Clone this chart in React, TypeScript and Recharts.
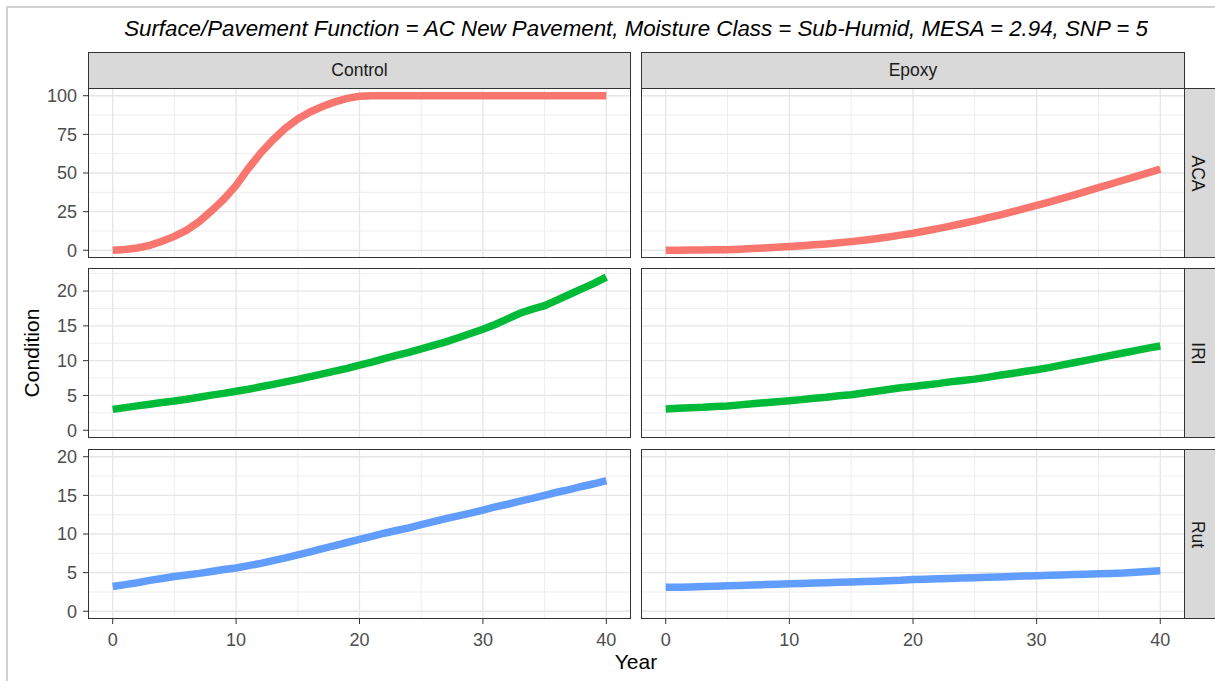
import React from 'react';
import { LineChart, Line, XAxis, YAxis, CartesianGrid } from 'recharts';

const years = [
  0, 1, 2, 3, 4, 5, 6, 7, 8, 9, 10, 11, 12, 13, 14, 15, 16, 17, 18, 19, 20,
  21, 22, 23, 24, 25, 26, 27, 28, 29, 30, 31, 32, 33, 34, 35, 36, 37, 38, 39, 40,
];
const treatments = ['Control', 'Epoxy'];
const measures = ['ACA', 'IRI', 'Rut'];

const controlACA = [
  0, 0.5, 1.5, 3.2, 5.8, 9, 13, 18.5, 25.5, 33, 42, 53, 63, 71.5, 79, 85, 89.5, 93, 96, 98.3, 99.6,
  100, 100, 100, 100, 100, 100, 100, 100, 100, 100, 100, 100, 100, 100, 100, 100, 100, 100, 100, 100,
];
const epoxyACA = [
  0, 0, 0.1, 0.2, 0.3, 0.4, 0.7, 1.1, 1.5, 1.9, 2.4, 2.9, 3.5, 4.1, 4.8, 5.6, 6.5, 7.5, 8.6, 9.8, 11,
  12.5, 14, 15.6, 17.3, 19, 20.9, 22.8, 24.8, 26.9, 29, 31.2, 33.4, 35.7, 38.1, 40.5, 42.9, 45.3, 47.7, 50.1, 52.5,
];
const controlIRI = [
  3.0, 3.25, 3.5, 3.75, 4.0, 4.2, 4.45, 4.75, 5.05, 5.3, 5.6, 5.9, 6.25, 6.6, 6.95, 7.3, 7.7, 8.1, 8.5, 8.9, 9.35,
  9.8, 10.3, 10.75, 11.2, 11.7, 12.2, 12.7, 13.3, 13.9, 14.5, 15.2, 16.0, 16.8, 17.4, 17.9, 18.7, 19.5, 20.3, 21.1, 22.0,
];
const epoxyIRI = [
  3.05, 3.15, 3.25, 3.3, 3.4, 3.5, 3.65, 3.8, 3.95, 4.1, 4.25, 4.4, 4.6, 4.75, 4.95, 5.1, 5.35, 5.6, 5.85, 6.1, 6.3,
  6.5, 6.7, 6.95, 7.15, 7.35, 7.6, 7.9, 8.15, 8.45, 8.7, 9.0, 9.35, 9.7, 10.05, 10.4, 10.75, 11.1, 11.45, 11.8, 12.1,
];
const controlRut = [
  3.2, 3.45, 3.7, 4.0, 4.25, 4.5, 4.7, 4.9, 5.15, 5.4, 5.6, 5.9, 6.2, 6.55, 6.9, 7.3, 7.7, 8.1, 8.5, 8.9, 9.3,
  9.7, 10.1, 10.45, 10.8, 11.2, 11.6, 12.0, 12.35, 12.7, 13.1, 13.5, 13.85, 14.25, 14.6, 15.0, 15.4, 15.75, 16.15, 16.5, 16.9,
];
const epoxyRut = [
  3.1, 3.1, 3.15, 3.2, 3.25, 3.3, 3.35, 3.4, 3.45, 3.5, 3.55, 3.6, 3.65, 3.7, 3.75, 3.8, 3.85, 3.9, 3.95, 4.0, 4.1,
  4.15, 4.2, 4.25, 4.3, 4.35, 4.4, 4.45, 4.5, 4.55, 4.6, 4.65, 4.7, 4.75, 4.8, 4.85, 4.9, 4.95, 5.05, 5.15, 5.25,
];

const xTicks = [0, 10, 20, 30, 40];
const xMinor = [5, 15, 25, 35];
const acaTicks = [0, 25, 50, 75, 100];
const acaMinor = [12.5, 37.5, 62.5, 87.5];
const iriTicks = [0, 5, 10, 15, 20];
const iriMinor = [2.5, 7.5, 12.5, 17.5, 22.5];
const rutTicks = [0, 5, 10, 15, 20];
const rutMinor = [2.5, 7.5, 12.5, 17.5];

const title =
  'Surface/Pavement Function = AC New Pavement, Moisture Class = Sub-Humid, MESA = 2.94, SNP = 5';

// layout (ggplot facet_grid look)
const FONT = '"Liberation Sans", Arial, Helvetica, sans-serif';
const colLeft = [88, 641];
const colW = [543, 544];
const rowTop = [88, 268, 449];
const rowH = 170;
const stripTop = 52;
const stripH = 36;
const PAD = 12; // room so edge tick labels are not clipped by the svg

const rows = [
  { series: [controlACA, epoxyACA], color: '#F8766D', domain: [-5, 105], ticks: acaTicks, minor: acaMinor },
  { series: [controlIRI, epoxyIRI], color: '#00BA38', domain: [-1.11, 23.31], ticks: iriTicks, minor: iriMinor },
  { series: [controlRut, epoxyRut], color: '#619CFF', domain: [-1, 21], ticks: rutTicks, minor: rutMinor },
];

const tickStyle = { fill: '#4d4d4d', fontSize: 18, fontFamily: FONT };

function Panel({ row, col }: { row: number; col: number }) {
  const r = rows[row];
  const values = r.series[col];
  const data = years.map((year, i) => ({ year, value: values[i] }));
  const showY = col === 0;
  const showX = row === 2;
  const yW = showY ? 88 : 0;
  const xH = showX ? 40 : 0;

  return (
    <div style={{ position: 'absolute', left: colLeft[col] - yW, top: rowTop[row] - PAD }}>
      <LineChart
        width={colW[col] + yW}
        height={rowH + xH + PAD * 2}
        data={data}
        margin={{ top: PAD, right: 0, bottom: PAD, left: 0 }}
      >
        <CartesianGrid horizontalValues={r.minor} verticalValues={xMinor} stroke="#eeeeee" strokeWidth={1} />
        <CartesianGrid horizontalValues={r.ticks} verticalValues={xTicks} stroke="#e6e6e6" strokeWidth={1.3} />
        <XAxis
          type="number"
          dataKey="year"
          domain={[-2, 42]}
          ticks={xTicks}
          interval={0}
          allowDataOverflow
          hide={!showX}
          height={xH}
          axisLine={false}
          tickLine={{ stroke: '#333333' }}
          tickSize={5}
          tickMargin={9}
          tick={tickStyle}
        />
        <YAxis
          type="number"
          domain={r.domain}
          ticks={r.ticks}
          interval={0}
          allowDataOverflow
          hide={!showY}
          width={yW}
          axisLine={false}
          tickLine={{ stroke: '#333333' }}
          tickSize={5}
          tickMargin={6}
          tick={tickStyle}
        />
        <Line
          type="linear"
          dataKey="value"
          stroke={r.color}
          strokeWidth={7.5}
          dot={false}
          isAnimationActive={false}
        />
      </LineChart>
    </div>
  );
}

export default function App() {
  const border = '1px solid #333333';
  return (
    <div
      style={{
        position: 'absolute',
        left: 0,
        top: 0,
        width: 1215,
        height: 681,
        overflow: 'hidden',
        background: '#ffffff',
        fontFamily: FONT,
      }}
    >
      {/* screenshot frame */}
      <div
        style={{
          position: 'absolute',
          left: 6,
          top: 6,
          width: 1240,
          height: 700,
          border: '2px solid #d2d2d2',
        }}
      />

      <div
        style={{
          position: 'absolute',
          left: 0,
          top: 16,
          width: 1272,
          textAlign: 'center',
          fontSize: 22.3,
          fontStyle: 'italic',
          color: '#000',
          whiteSpace: 'nowrap',
        }}
      >
        {title}
      </div>

      {rows.map((_, ri) =>
        treatments.map((_t, ci) => <Panel key={`${ri}-${ci}`} row={ri} col={ci} />)
      )}

      {/* panel borders */}
      {rows.map((_, ri) =>
        treatments.map((_t, ci) => (
          <div
            key={`b-${ri}-${ci}`}
            style={{
              position: 'absolute',
              left: colLeft[ci],
              top: rowTop[ri],
              width: colW[ci],
              height: rowH,
              boxSizing: 'border-box',
              border,
            }}
          />
        ))
      )}

      {/* top strips */}
      {treatments.map((t, ci) => (
        <div
          key={`s-${t}`}
          style={{
            position: 'absolute',
            left: colLeft[ci],
            top: stripTop,
            width: colW[ci],
            height: stripH + 1,
            boxSizing: 'border-box',
            border,
            background: '#d9d9d9',
            color: '#1a1a1a',
            fontSize: 17.5,
            display: 'flex',
            alignItems: 'center',
            justifyContent: 'center',
          }}
        >
          {t}
        </div>
      ))}

      {/* right strips */}
      {measures.map((m, ri) => (
        <div
          key={`r-${m}`}
          style={{
            position: 'absolute',
            left: colLeft[1] + colW[1] - 1,
            top: rowTop[ri],
            width: stripH + 1,
            height: rowH,
            boxSizing: 'border-box',
            border,
            background: '#d9d9d9',
            color: '#1a1a1a',
            fontSize: 17.5,
            display: 'flex',
            alignItems: 'center',
            justifyContent: 'center',
          }}
        >
          <span style={{ transform: 'translateX(-5px) rotate(90deg)', whiteSpace: 'nowrap' }}>{m}</span>
        </div>
      ))}

      <div
        style={{
          position: 'absolute',
          left: 32 - 60,
          top: 353 - 12,
          width: 120,
          height: 24,
          lineHeight: '24px',
          textAlign: 'center',
          fontSize: 21,
          color: '#000',
          transform: 'rotate(-90deg)',
        }}
      >
        Condition
      </div>

      <div
        style={{
          position: 'absolute',
          left: 636 - 60,
          top: 650,
          width: 120,
          height: 24,
          lineHeight: '24px',
          textAlign: 'center',
          fontSize: 21,
          color: '#000',
        }}
      >
        Year
      </div>
    </div>
  );
}
